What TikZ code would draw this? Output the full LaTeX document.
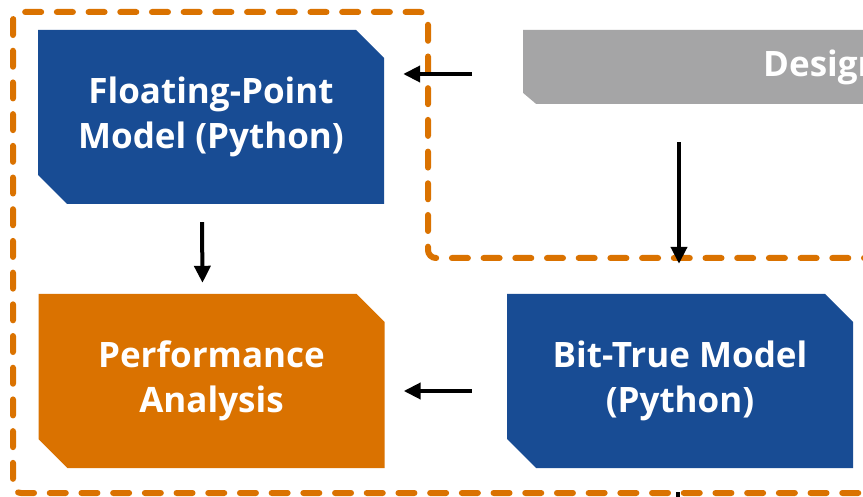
\documentclass[tikz,border=0pt]{standalone}
\usepackage{fontspec}
\setmainfont{Open Sans}
\usetikzlibrary{arrows.meta}
\definecolor{boxblue}{HTML}{184C94}
\definecolor{boxorange}{HTML}{DA7200}
\definecolor{boxgray}{HTML}{A5A5A6}
\tikzset{
  chbox/.style={
    minimum width=346pt, minimum height=174pt, inner sep=0pt,
    align=center, text=white,
    font=\fontsize{35}{44.5}\selectfont\bfseries,
    path picture={
      \fill[#1]
        (path picture bounding box.north west)
        -- ([xshift=-28pt]path picture bounding box.north east)
        -- ([yshift=-28pt]path picture bounding box.north east)
        -- (path picture bounding box.south east)
        -- ([xshift=29pt]path picture bounding box.south west)
        -- ([yshift=29pt]path picture bounding box.south west)
        -- cycle;
    }
  },
  graybox/.style={
    minimum height=74pt, inner ysep=0pt, inner xsep=0pt,
    text width=440pt, align=left, text=white,
    font=\fontsize{35}{44.5}\selectfont\bfseries,
    path picture={
      \fill[boxgray]
        (path picture bounding box.north west)
        -- (path picture bounding box.north east)
        -- (path picture bounding box.south east)
        -- ([xshift=13pt]path picture bounding box.south west)
        -- ([yshift=11pt]path picture bounding box.south west)
        -- cycle;
    }
  },
  flow/.style={line width=4pt, -{Triangle[length=17pt,width=16pt]}},
  group/.style={draw=boxorange, line width=6pt, line cap=round,
    dash pattern=on 16pt off 15.7pt, rounded corners=8pt}
}
\begin{document}
\begin{tikzpicture}[x=1pt,y=-1pt]
  \useasboundingbox (0,0) rectangle (863,497);
  \clip (0,0) rectangle (863,497);
  \fill[white] (0,0) rectangle (863,497);

  % model and analysis blocks
  \node[chbox=boxblue] (fp) at (211,117) {Floating-Point\\Model (Python)};
  \node[chbox=boxorange] (perf) at (211.5,381) {Performance\\Analysis};
  \node[chbox=boxblue] (bit) at (680,381) {Bit-True Model\\(Python)};
  \node[graybox, anchor=west] (design) at (523,67)
    {\hspace*{240pt}Design};

  % group frame around the Python models
  \draw[group] (880,258) -- (428,258) -- (428,12) -- (13,12)
    -- (13,493) -- (880,493);

  % connectors
  \draw[flow] ([shift={(-51pt,-7pt)}]design.west)
    -- ([shift={(19pt,-7pt)}]fp.east |- design.west);
  \draw[flow] ([shift={(-9pt,-18pt)}]fp.south)
    -- ([shift={(-9pt,11pt)}]perf.north);
  \coordinate (dsrc) at (bit.north |- design.south);
  \draw[flow] ([shift={(-1pt,-38pt)}]dsrc)
    -- ([shift={(-1pt,30pt)}]bit.north);
  \draw[flow] ([shift={(-35pt,-10pt)}]bit.west)
    -- ([shift={(19pt,-10pt)}]perf.east);
  \coordinate (bout) at ([shift={(-2pt,-24pt)}]bit.south);
  \draw[line width=4pt] (bout) -- ++(0,20);
\end{tikzpicture}
\end{document}
